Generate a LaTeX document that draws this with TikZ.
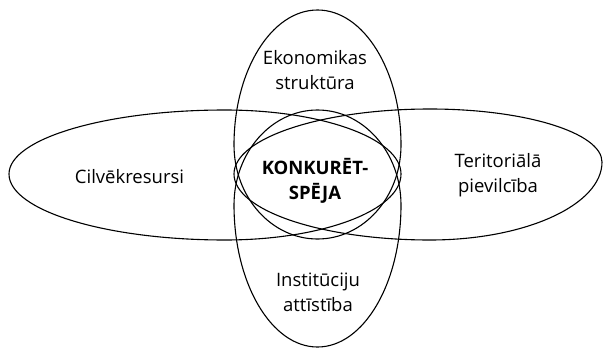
\documentclass[tikz,border=0pt]{standalone}
\usepackage{fontspec}
\setmainfont{Open Sans}
\begin{document}
\begin{tikzpicture}[x=1pt,y=1pt,
  blob/.style={draw=black,line width=1.1pt},
  lbl/.style={align=center,inner sep=0pt,font=\fontsize{18.5}{25}\selectfont},
  clbl/.style={align=center,inner sep=0pt,font=\fontsize{18.5}{25}\selectfont\bfseries}]
\useasboundingbox (0,0) rectangle (604,349);
% top egg (Ekonomikas struktura)
\draw[blob] (401,204) arc[start angle=0,end angle=180,x radius=83.5pt,y radius=135pt]
                      arc[start angle=180,end angle=360,x radius=83.5pt,y radius=94pt] -- cycle;
% bottom egg (Instituciju attistiba)
\draw[blob] (401,144) arc[start angle=0,end angle=180,x radius=83.5pt,y radius=95pt]
                      arc[start angle=180,end angle=360,x radius=83.5pt,y radius=142pt] -- cycle;
% left egg (Cilvekresursi)
\draw[blob] (225,239) arc[start angle=90,end angle=180,x radius=216pt,y radius=64pt]
                      arc[start angle=180,end angle=270,x radius=216pt,y radius=66pt]
                      arc[start angle=270,end angle=360,x radius=176pt,y radius=66pt]
                      arc[start angle=0,end angle=90,x radius=176pt,y radius=64pt] -- cycle;
% right egg (Teritoriala pievilciba)
\draw[blob] (430,240) arc[start angle=90,end angle=180,x radius=196pt,y radius=65pt]
                      arc[start angle=180,end angle=270,x radius=196pt,y radius=66pt]
                      arc[start angle=270,end angle=360,x radius=172pt,y radius=78pt]
                      arc[start angle=0,end angle=90,x radius=172pt,y radius=53pt] -- cycle;
\node[lbl]  (eko) at (315,279) {Ekonomikas\\struktūra};
\node[lbl]  (cil) at (129.5,172) {Cilvēkresursi};
\node[clbl] (kon) at (315,168) {KONKURĒT-\\SPĒJA};
\node[lbl]  (ter) at (498,174) {Teritoriālā\\pievilcība};
\node[lbl]  (ins) at (318,57) {Institūciju\\attīstība};
\end{tikzpicture}
\end{document}
